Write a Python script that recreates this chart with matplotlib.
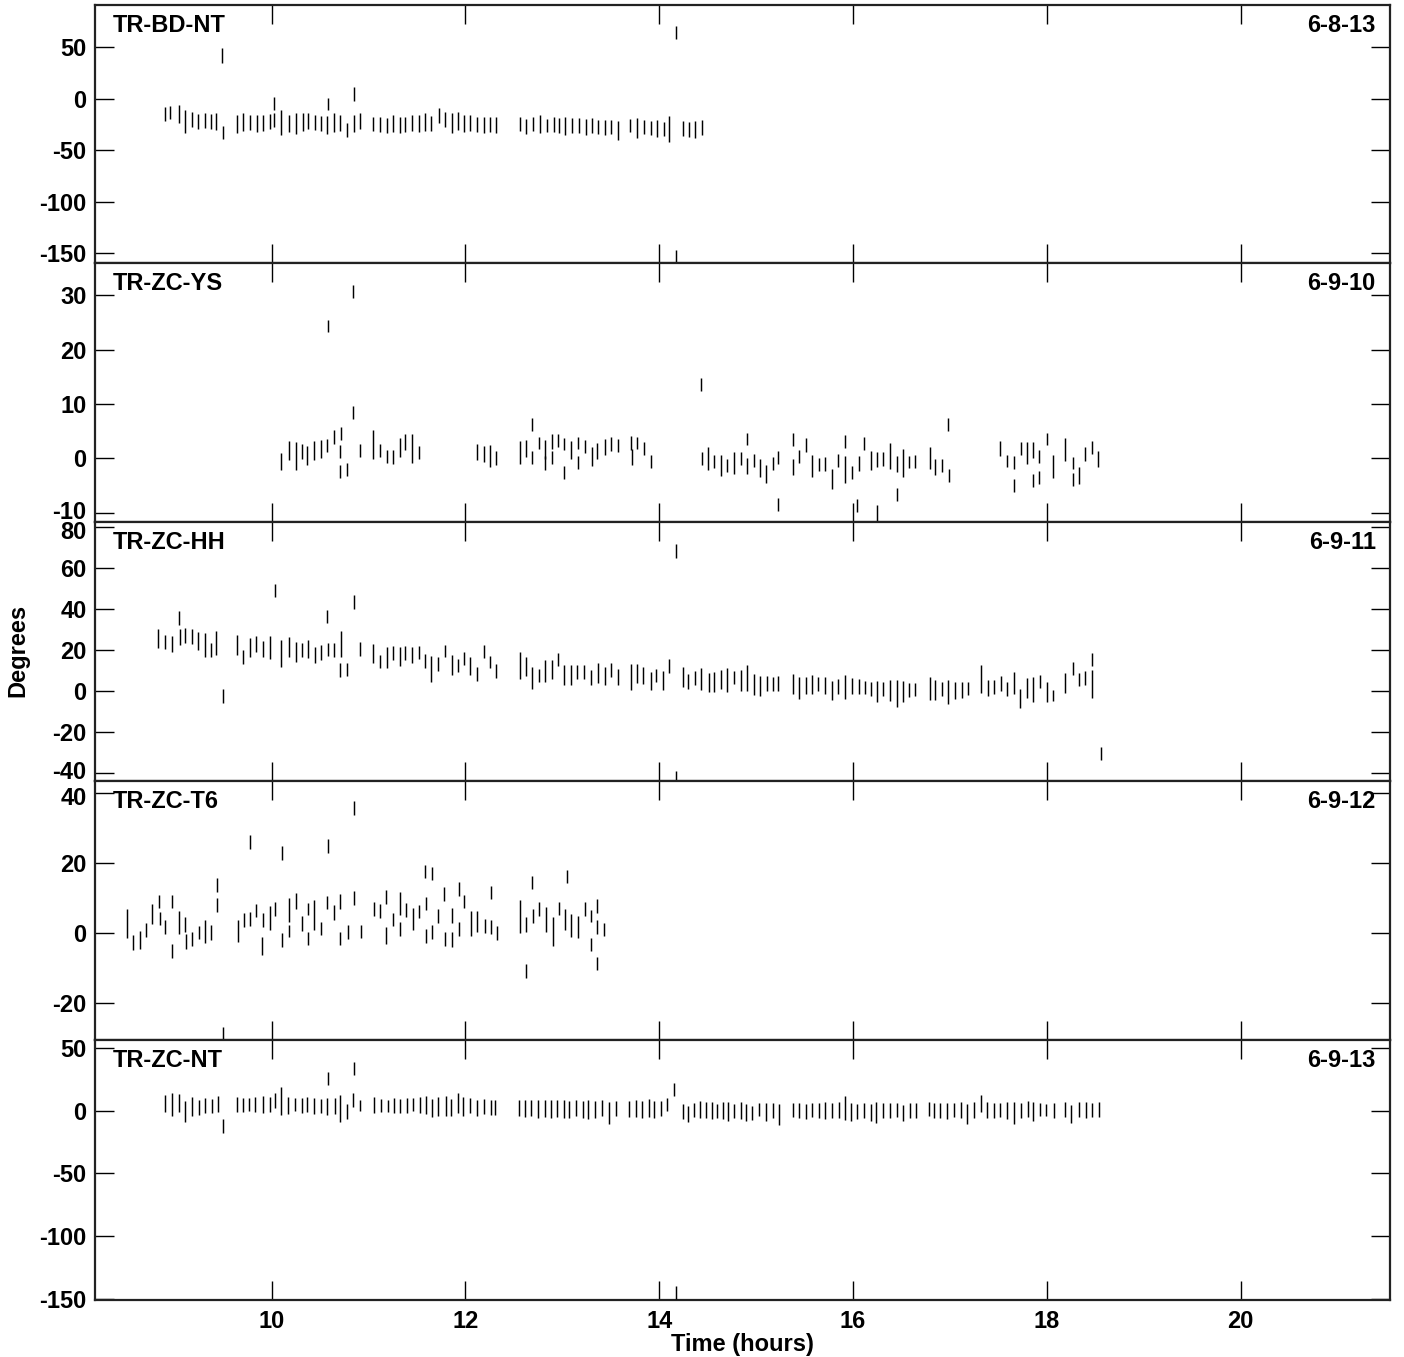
import matplotlib
matplotlib.use("Agg")
import matplotlib.pyplot as plt
import matplotlib.transforms as mtransforms

plt.rcParams['font.family'] = ['Liberation Sans', 'DejaVu Sans']
plt.rcParams['font.weight'] = 'bold'
plt.rcParams['axes.unicode_minus'] = False

# ---------------- data ----------------
names = ["TR-BD-NT", "TR-ZC-YS", "TR-ZC-HH", "TR-ZC-T6", "TR-ZC-NT"]
dates = ["6-8-13", "6-9-10", "6-9-11", "6-9-12", "6-9-13"]
xticks = [10, 12, 14, 16, 18, 20]

# Panel 1: TR-BD-NT
t1 = [8.90,8.95,9.04,9.11,9.18,9.24,9.31,9.37,9.43,9.50,9.49,
      9.64,9.71,9.78,9.85,9.91,9.98,10.03,10.03,10.10,10.18,10.25,10.32,10.38,10.45,10.51,10.57,10.58,10.64,10.71,10.78,10.85,10.85,10.91,
      11.05,11.12,11.19,11.25,11.32,11.38,11.45,11.52,11.58,11.65,11.73,11.79,11.86,11.92,11.99,12.05,12.12,12.19,12.25,12.32,
      12.56,12.63,12.70,12.77,12.84,12.91,12.97,13.03,13.10,13.17,13.24,13.31,13.37,13.44,13.50,13.57,
      13.70,13.77,13.84,13.91,13.98,14.05,14.10,14.17,14.17,
      14.24,14.31,14.37,14.44]
v1 = [-14.6,-13.6,-15,-22.3,-19.9,-21.8,-21.4,-21.8,-22,-33,42,
      -24.3,-23,-23,-24,-23.5,-21.8,-4.5,-20.7,-23,-24,-24.4,-22.7,-21.8,-23.5,-24.6,-25.6,-5,-23.3,-23.5,-30.7,4.5,-24,-21.8,
      -24.6,-25,-26.5,-24,-25.6,-25,-23.5,-24,-22.7,-24,-16.5,-20.4,-23.6,-21.4,-24,-23.5,-25.2,-25.6,-25,-25.6,
      -24.9,-26.9,-24.9,-24.3,-26,-25.5,-26.5,-26.5,-25.9,-26.5,-27.5,-26.5,-27.5,-28.2,-27.5,-30.7,
      -26,-28.8,-27.5,-28.5,-29,-29.5,-29.4,64.4,-155,
      -28.8,-29.8,-29.8,-28.2]
e1 = [6.8,6.5,8.9,11.3,7.3,7.3,7.1,7.3,8.4,6.5,7,
      8.6,8.9,7.3,8.1,7.6,7.3,6.5,6.5,12,8.1,10,8.9,7.6,7.3,7.3,8.4,6.1,8.9,7.6,6.8,6.5,8.1,7.6,
      6.8,7.3,7.3,8.1,8.1,7.3,7.6,8.1,8.4,7.1,7.3,7.3,9.4,8.6,8.1,7.6,7.3,7.8,7.3,7.8,
      6.8,7.6,6.8,8.6,6.5,7.3,7.3,8.4,7,7.3,8.1,7.3,6.8,7.3,7.1,9.4,
      6.5,9.7,6.8,7,7.8,7,13,6.5,8,
      7.4,7.3,8.1,7.3]

# Panel 2: TR-ZC-YS
t2 = [10.10,10.18,10.25,10.31,10.37,10.44,10.51,10.57,10.64,10.72,10.71,10.71,10.78,10.84,10.84,10.58,10.91,11.05,11.12,11.19,11.25,11.32,11.38,11.45,11.52,
      12.12,12.19,12.25,12.32,
      12.56,12.62,12.69,12.69,12.76,12.82,12.82,12.89,12.89,12.96,13.02,13.02,13.09,13.16,13.16,13.23,
      13.31,13.36,13.44,13.50,13.57,13.71,13.72,13.77,13.84,13.91,
      14.43,
      14.44,14.50,14.57,14.64,14.70,14.77,14.84,14.91,14.91,14.98,15.04,15.10,15.17,15.23,15.23,
      15.38,15.38,15.44,15.51,15.58,15.65,15.71,15.78,15.84,15.92,15.92,15.99,16.04,16.06,16.11,16.18,16.25,16.25,16.31,16.38,16.45,16.45,16.52,16.58,16.64,16.79,16.85,16.92,16.98,16.99,
      17.52,17.59,17.66,17.66,17.73,17.79,17.86,17.86,17.92,17.92,18.00,18.06,18.19,18.27,18.27,18.33,18.39,18.47,18.53]
v2 = [-0.6,1.4,0.4,1.3,0.5,1.4,1.7,2.4,4.0,4.6,1.2,-2.4,-2.1,8.5,30.7,24.4,1.5,2.6,1.5,0.3,0.2,2.0,3.0,1.8,1.0,
      1.2,0.8,0.4,0.0,
      1.0,1.8,6.2,0.2,2.8,-0.9,1.6,3.1,0.2,3.3,-2.6,2.6,1.5,2.9,-0.7,2.1,
      0.3,1.3,2.1,2.6,2.3,2.8,0.2,2.9,1.8,-0.6,
      13.5,
      -0.1,0.0,-0.5,-1.3,-1.3,-0.9,-0.1,3.6,-1.4,-0.4,-1.8,-2.9,-1.0,0.2,-8.5,
      3.5,-1.6,0.4,2.5,-1.4,-1.1,-1.0,-3.8,-0.4,3.1,-2.0,-2.6,-8.7,-0.9,2.8,-0.4,-10.5,-0.2,-0.1,0.4,-1.1,-6.6,-0.8,-0.7,-0.6,0.0,-1.6,-1.4,6.2,-3.2,
      1.8,-0.4,-0.7,-5.0,1.8,1.0,1.5,-4.0,0.3,-3.6,3.6,-1.5,1.6,-0.9,-3.9,-3.2,0.8,2.0,-0.1]
e2 = [1.5,1.7,2.6,1.4,1.8,1.7,1.7,1.2,1.3,1.2,1.2,1.2,1.2,1.2,1.2,1.1,1.2,2.7,1.2,1.2,1.3,1.8,1.4,2.6,1.2,
      1.5,1.4,2.0,1.3,
      2.1,1.5,1.2,1.2,1.1,1.3,1.7,1.3,1.2,1.2,1.2,1.1,1.7,1.1,1.2,1.2,
      1.7,1.5,1.4,1.3,1.2,1.3,1.5,1.1,1.2,1.2,
      1.2,
      1.2,2.1,1.2,2.0,1.2,2.0,1.2,1.1,1.4,1.2,1.7,1.6,1.2,1.2,1.2,
      1.2,1.4,1.2,1.3,2.1,1.2,1.3,1.8,1.2,1.2,2.5,1.2,1.2,1.4,1.2,1.7,2.0,1.4,1.3,2.4,1.5,1.2,2.6,1.1,1.2,2.0,1.4,1.2,1.2,1.2,
      1.3,1.1,1.2,1.2,1.2,2.0,1.5,1.2,1.2,1.2,1.1,2.2,2.1,1.1,1.2,1.6,1.2,1.2,1.5]

# Panel 3: TR-ZC-HH
t3 = [8.83,8.90,8.97,9.04,9.05,9.11,9.18,9.24,9.31,9.37,9.43,9.50,
      9.64,9.71,9.78,9.84,9.91,9.98,10.04,10.10,10.18,10.25,10.31,10.38,10.45,10.51,10.57,10.58,10.64,10.71,10.72,10.78,10.85,10.91,
      11.05,11.12,11.19,11.25,11.32,11.38,11.45,11.52,11.58,11.65,11.72,11.79,11.86,11.92,11.99,12.05,12.12,12.19,12.25,12.32,
      12.56,12.63,12.69,12.76,12.82,12.89,12.96,13.02,13.09,13.15,13.22,
      13.30,13.37,13.44,13.50,13.57,13.71,13.77,13.83,13.91,13.97,14.04,14.10,14.17,14.17,
      14.24,14.30,14.37,14.43,14.51,14.57,14.64,14.70,14.77,14.84,14.91,14.98,15.04,15.11,15.17,15.23,
      15.38,15.44,15.51,15.58,15.64,15.71,15.78,15.84,15.92,15.99,16.06,16.12,16.18,16.25,16.31,16.38,16.45,16.52,16.58,16.64,
      16.79,16.85,16.92,16.98,17.05,17.12,17.19,
      17.32,17.39,17.45,17.53,17.59,17.66,17.72,17.79,17.86,17.93,18.00,18.06,
      18.19,18.27,18.33,18.39,18.47,18.47,18.56]
v3 = [25.5,24,23,35.6,26.3,27,26.5,24.5,22.3,20,23.4,-2.4,
      22.4,16.7,21.3,23,20.6,21.3,49,18.2,21.5,19,20,20.5,17.7,18.9,36.4,20.2,20.2,10.2,23,10.6,43.4,20.5,
      18.2,14.3,16.3,18.5,17,18.5,17.8,18.9,14.8,10.9,13.4,19.5,12.6,12.4,16,12.2,8.2,19.3,14.3,9.8,
      12.5,12,6.3,7.6,9.9,10.5,15.3,7.6,7.6,9.4,9.2,
      6.6,8.7,7.3,10.3,6.8,6.8,8.7,7.6,4.9,7.6,5,12.4,68.6,-42,
      6.8,4.6,6.2,5.8,4.2,4.3,5.5,5.3,6.5,5.3,6.3,3.2,2.6,3.6,3.5,3.7,
      3.2,1.4,2.8,3.1,3.6,2.6,0.3,2.1,1.9,2.4,2.2,1.7,0.9,-0.3,0.9,0.2,-1.1,-0.3,0.3,0.7,
      1.2,0.5,0.9,-0.3,0.4,0.5,1.1,
      5.9,1.5,2.1,3.7,0.9,3.8,-3.6,1.5,0.6,4.7,-0.3,-2.2,
      3.8,11.1,5.5,6.3,15.4,3.4,-30.7]
e3 = [4.6,3.3,4,3.4,3.8,3.7,3.7,4.5,5.9,3.3,5.9,3.3,
      4.9,3.3,4.5,3.8,3.9,5.7,3.3,6.7,4.7,4.7,3.3,4.5,3.9,3.7,3.4,3.3,3.4,3.3,6.3,3.3,3.5,3.3,
      4.7,3.3,5.3,3.4,4.6,3.5,3.9,3.3,3.4,6.3,3.4,3,4.9,3.3,3.3,4.3,3.5,3,3,3.4,
      6.7,4.5,5.5,3.3,5.3,4.5,3.3,4.9,4.9,3.3,3.4,
      3.7,5,4.5,3.4,3.8,6.5,4.7,4.2,4.3,3.3,4.7,3.4,3.4,3,
      4.7,3.5,3.4,5.3,4.6,4.9,4.7,5.7,3.3,5.1,6.3,5.3,4.9,3.8,3.4,3.6,
      4.9,5.4,4.1,4.6,3.4,4.2,4.5,3.7,5.7,4.1,3.7,3.3,3.3,5,3.4,5.3,6.7,5,3.4,3.3,
      5.5,4.9,3.3,5.9,4.1,4.1,3.3,
      6.9,3.8,3.4,3.6,3.3,5.3,4.6,4.9,6.1,3.3,4.9,2.8,
      4.9,3.3,3.3,3.3,3.3,6.9,3.2]

# Panel 4: TR-ZC-T6
t4 = [8.51,8.57,8.64,8.70,8.77,8.84,8.85,8.90,8.97,8.97,9.04,9.11,9.12,9.18,9.25,9.31,9.38,9.44,9.44,9.50,
      9.65,9.72,9.78,9.78,9.84,9.90,9.91,9.98,10.04,10.11,10.11,10.18,10.18,10.25,10.31,10.38,10.38,10.44,10.51,10.57,10.58,10.64,10.71,10.71,10.79,10.85,10.85,10.92,
      11.06,11.12,11.18,11.18,11.25,11.32,11.32,11.39,11.46,11.52,11.58,11.59,11.59,11.66,11.66,11.72,11.78,11.79,11.86,11.86,11.93,11.93,11.99,12.06,12.12,12.20,12.26,12.26,12.33,
      12.56,12.63,12.63,12.69,12.70,12.76,12.83,12.90,12.97,13.05,13.03,13.09,13.16,13.23,13.30,13.30,13.36,13.36,13.36,13.43]
v4 = [2.5,-2.8,-2.1,0.7,5.4,8.8,4.0,1.6,8.8,-5.3,2.9,2.4,-2.6,-1.8,0.0,0.3,0.0,13.5,7.9,-29,
      0.5,3.6,25.8,3.9,6.3,-3.9,3.6,4.2,6.7,-2.1,22.7,6.5,0.5,9.0,2.6,6.7,-1.6,5.1,1.2,8.5,24.7,5.7,8.8,-1.6,0.2,9.9,35.6,0.3,
      6.8,6.2,10.2,-0.9,3.8,8.3,1.0,6.4,3.8,6.0,17.5,8.4,-1.0,16.9,0.2,4.6,11.0,-1.8,4.9,-2.0,12.4,1.0,8.8,2.6,3.2,2.0,11.4,1.6,-0.1,
      4.7,2.4,-11.0,14.3,4.7,6.7,3.8,0.3,6.9,16.1,3.7,2.1,1.6,6.7,4.7,-3.4,7.6,1.6,-8.8,0.9]
e4 = [4.1,2.2,2.5,1.9,2.9,1.8,1.9,1.9,1.8,2.0,3.2,2.1,2.1,1.9,1.9,3.4,2.1,2.0,2.1,2.0,
      3.1,1.9,2.0,1.9,1.9,2.6,1.9,3.5,1.9,1.9,2.0,3.4,1.8,2.3,2.2,1.8,1.9,4.3,1.9,1.9,1.9,2.1,2.2,1.9,1.9,2.0,2.0,1.8,
      2.0,2.0,1.9,2.5,1.9,3.2,2.0,2.0,3.2,1.9,1.9,1.9,1.9,1.9,1.9,2.0,2.1,1.9,2.1,2.2,1.9,1.9,1.9,3.7,3.1,2.0,1.9,2.0,1.9,
      4.7,2.1,1.9,1.8,2.0,2.1,3.5,4.1,1.9,1.9,3.0,3.3,3.1,1.9,1.7,1.8,1.9,1.9,1.9,1.8]

# Panel 5: TR-ZC-NT
t5 = [8.90,8.97,9.04,9.11,9.18,9.25,9.31,9.39,9.45,9.50,
      9.64,9.71,9.77,9.83,9.91,9.98,10.04,10.10,10.17,10.24,10.31,10.37,10.44,10.51,10.58,10.57,10.65,10.71,10.78,10.84,10.85,10.91,
      11.06,11.13,11.20,11.26,11.33,11.40,11.46,11.53,11.59,11.66,11.72,11.80,11.85,11.92,11.98,12.05,12.12,12.19,12.26,12.31,
      12.55,12.61,12.68,12.75,12.82,12.88,12.94,13.02,13.07,13.14,13.21,13.27,13.34,13.41,13.48,13.55,
      13.69,13.76,13.82,13.89,13.95,14.02,14.08,14.15,14.17,
      14.24,14.30,14.36,14.42,14.48,14.54,14.60,14.66,14.71,14.77,14.84,14.89,14.96,15.03,15.10,15.17,15.24,
      15.38,15.44,15.51,15.58,15.65,15.71,15.78,15.85,15.92,15.98,16.04,16.11,16.18,16.24,16.31,16.38,16.45,16.52,16.59,16.65,
      16.78,16.84,16.90,16.97,17.04,17.11,17.18,17.25,17.32,17.38,17.45,17.52,17.59,17.66,17.73,17.80,17.86,17.93,17.99,18.07,
      18.19,18.25,18.33,18.40,18.47,18.54]
v5 = [5.9,5.0,6.4,-1.0,3.5,2.7,4.5,3.7,5.3,-12.2,
      4.8,4.3,4.8,4.8,4.8,5.2,8.0,7.7,4.3,5.0,4.3,4.8,3.9,3.7,25.8,3.5,3.7,1.6,-1.0,8.8,33.8,4.1,
      4.5,4.2,3.7,4.2,3.5,4.2,4.8,4.5,4.4,2.1,3.5,3.9,2.7,6.1,3.5,4.1,2.4,3.0,2.9,2.4,
      2.4,1.8,2.1,1.3,1.8,1.5,1.8,1.3,1.1,2.1,0.9,1.1,1.1,2.1,-1.7,1.9,
      1.5,1.6,1.1,2.1,0.9,1.9,4.8,17.0,-145,
      -0.5,-2.6,0.9,0.8,0.4,0.0,-0.4,0.0,-0.8,-0.4,0.0,-1.3,-1.8,1.3,-0.8,0.3,-2.9,
      0.8,0.0,-0.7,0.8,0.3,0.0,0.3,0.5,2.4,-0.8,-0.8,0.0,-1.3,-1.6,0.0,0.0,0.3,-2.0,0.3,0.0,
      1.6,0.0,0.3,-0.4,0.8,0.5,-2.4,0.5,5.8,0.5,0.3,0.8,0.0,-1.6,0.0,1.3,-0.5,1.3,0.5,0.3,
      1.0,-3.0,1.0,0.5,0.8,1.0]
e5 = [6.6,9.3,7.3,8.4,7.7,6.0,6.0,5.9,6.6,5.3,
      6.1,5.7,5.3,6.1,6.9,6.0,6.0,11.0,6.9,5.3,6.0,6.1,6.3,5.9,5.3,6.6,6.6,11.0,6.0,5.6,5.3,4.7,
      6.6,5.3,5.1,6.0,5.6,6.0,5.3,6.6,7.3,6.9,7.4,8.2,6.6,8.2,7.7,5.7,6.4,6.0,6.0,6.1,
      6.4,6.9,6.1,7.3,6.6,7.3,6.6,7.0,6.6,6.4,7.0,7.4,6.6,6.6,8.6,6.0,
      6.6,7.0,6.6,6.9,7.0,6.0,5.3,5.3,5.0,
      6.2,6.6,5.6,6.6,6.2,6.6,5.5,6.6,7.6,5.5,6.6,6.6,5.6,5.2,7.2,6.2,8.5,
      5.6,5.8,5.9,5.6,6.2,6.6,6.2,6.6,9.6,7.2,5.9,5.8,6.6,8.3,5.8,5.8,5.5,6.2,6.2,5.8,
      5.6,5.8,6.2,6.2,5.6,6.6,7.9,6.6,7.0,6.6,6.2,5.6,6.6,8.7,5.8,6.6,7.6,5.2,5.0,6.2,
      6.0,7.2,6.0,6.6,5.6,6.0]

yticks_list = [[50, 0, -50, -100, -150],
               [30, 20, 10, 0, -10],
               [80, 60, 40, 20, 0, -20, -40],
               [40, 20, 0, -20],
               [50, 0, -50, -100, -150]]
ylims = [(-159.8, 91.1), (-11.7, 35.9), (-44.0, 82.6), (-30.7, 43.3), (-151.0, 56.4)]
series = [(t1, v1, e1), (t2, v2, e2), (t3, v3, e3), (t4, v4, e4), (t5, v5, e5)]

# ---------------- figure ----------------
W, H = 1404, 1357
fig = plt.figure(figsize=(W / 100, H / 100), dpi=100)
left_px, right_px = 95, 1390
edges = [5, 263, 522, 781, 1040, 1300]
xlim = (8.178, 21.54)
FS = 17


def nudge(label, dy_px):
    label.set_transform(label.get_transform() +
                        mtransforms.ScaledTranslation(0, dy_px / 100, fig.dpi_scale_trans))


for i in range(5):
    top, bot = edges[i], edges[i + 1]
    ax = fig.add_axes([left_px / W, 1 - bot / H, (right_px - left_px) / W, (bot - top) / H])
    t, v, e = series[i]
    cont = ax.errorbar(t, v, yerr=e, fmt='none', ecolor='black', elinewidth=1.05, capsize=0, zorder=3)
    for lc in cont[2]:
        lc.set_clip_on(False)
    ax.set_xlim(*xlim)
    ax.set_ylim(*ylims[i])
    ax.set_xticks(xticks)
    ax.set_yticks(yticks_list[i])
    ax.set_xticklabels([str(x) for x in xticks])
    ax.set_yticklabels([str(y) for y in yticks_list[i]])
    ax.tick_params(axis='x', which='major', direction='in', length=14, width=1.0,
                   top=True, bottom=True, labelbottom=(i == 4), labelsize=FS, pad=7)
    ax.tick_params(axis='y', which='major', direction='in', length=14, width=1.0,
                   left=True, right=True, labelsize=FS, pad=6)
    ax.minorticks_off()
    for lab in ax.get_xticklabels() + ax.get_yticklabels():
        lab.set_fontweight('bold')
    # nudge the crowded edge labels of adjacent panels apart a little
    ylabs = ax.get_yticklabels()
    if i in (1, 2):
        nudge(ylabs[-1], 3)
    if i in (2, 3):
        nudge(ylabs[0], -3)
    for sp in ax.spines.values():
        sp.set_linewidth(1.6)
        sp.set_color('#222222')
    ax.text(0.0139, 1 - 27 / (bot - top), names[i], transform=ax.transAxes, ha='left', va='baseline',
            fontsize=FS, fontweight='bold')
    ax.text(0.989, 1 - 27 / (bot - top), dates[i], transform=ax.transAxes, ha='right', va='baseline',
            fontsize=FS, fontweight='bold')
    if i == 4:
        ax.set_xlabel('Time (hours)', fontsize=FS, fontweight='bold', labelpad=0)

fig.text(18 / W, 1 - 650 / H, 'Degrees', rotation=90, ha='center', va='center',
         fontsize=FS, fontweight='bold')

fig.savefig('out.png', dpi=100)
